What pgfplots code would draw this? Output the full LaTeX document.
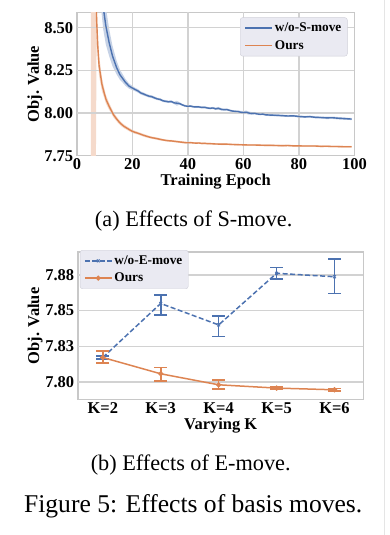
\documentclass[border=0pt]{standalone}
\usepackage{fontspec}
\setmainfont{Liberation Serif}
\usepackage{pgfplots}
\usepackage{pgfplotstable}
\pgfplotsset{compat=1.18}
\usepgfplotslibrary{fillbetween}
\definecolor{cblue}{HTML}{4C72B0}
\definecolor{corange}{HTML}{DD8452}
\definecolor{gridc}{HTML}{D2D2D2}
\definecolor{framec}{HTML}{C8C8C8}
\definecolor{legbg}{HTML}{EAEAF2}
\definecolor{legdraw}{HTML}{CFCFD8}

\pgfplotstableread{
x m e
8.0 9.0 0.3
9.0 8.72 0.15
9.5 8.62 0.13
10.4 8.514 0.11
11.6 8.415 0.08
12.8 8.336 0.06
14.3 8.267 0.04
15.5 8.225 0.03
16.4 8.205 0.025
17.5 8.18 0.02
18.8 8.158 0.015
20 8.147 0.012
21 8.138 0.01
22 8.13 0.01
23 8.118 0.009
24 8.112 0.009
25 8.105 0.008
26 8.099 0.008
27 8.096 0.008
28 8.089 0.008
29 8.083 0.007
30 8.080 0.007
31 8.072 0.007
32 8.069 0.007
33 8.066 0.007
34 8.068 0.007
35 8.060 0.007
36 8.058 0.014
37 8.056 0.007
38 8.048 0.006
39 8.042 0.006
40 8.040 0.006
41 8.041 0.006
42 8.037 0.006
43 8.036 0.006
44 8.036 0.006
45 8.033 0.006
46 8.034 0.006
47 8.030 0.006
48 8.028 0.006
49 8.030 0.006
50 8.025 0.007
51 8.028 0.008
52 8.022 0.007
53 8.020 0.006
54 8.021 0.006
55 8.016 0.006
56 8.012 0.006
57 8.010 0.006
58 8.009 0.007
59 8.005 0.008
60 8.003 0.009
61 8.005 0.010
62 8.000 0.009
63 7.998 0.008
64 7.999 0.007
65 7.995 0.006
66 7.993 0.006
67 7.994 0.006
68 7.990 0.006
70 7.988 0.006
72 7.987 0.006
74 7.985 0.006
76 7.983 0.006
78 7.984 0.006
80 7.980 0.006
82 7.978 0.006
84 7.979 0.006
86 7.975 0.006
88 7.974 0.006
90 7.972 0.007
92 7.973 0.007
94 7.970 0.007
96 7.968 0.007
98 7.966 0.006
99 7.965 0.006
}\bluedata

\pgfplotstableread{
x m e
5.0 10.0 3.0
6.6 9.0 2.0
7.1 8.55 0.12
7.5 8.40 0.08
8.0 8.277 0.06
8.6 8.215 0.05
9.0 8.17 0.04
9.8 8.12 0.03
10.5 8.08 0.025
11.6 8.04 0.02
12.5 8.012 0.018
13.2 7.99 0.016
14.0 7.972 0.014
15.0 7.952 0.013
16.0 7.935 0.012
17.0 7.922 0.011
18.0 7.912 0.010
19.0 7.902 0.010
20.0 7.893 0.009
21 7.887 0.009
22 7.882 0.008
23 7.876 0.008
24 7.870 0.008
25 7.865 0.008
26 7.860 0.007
27 7.856 0.007
28 7.853 0.007
29 7.850 0.007
30 7.846 0.007
31 7.843 0.006
32 7.840 0.006
33 7.838 0.006
34 7.837 0.006
35 7.835 0.006
36 7.833 0.006
37 7.831 0.006
38 7.829 0.006
39 7.827 0.006
40 7.826 0.005
41 7.827 0.005
42 7.825 0.005
43 7.824 0.005
44 7.825 0.005
45 7.822 0.005
46 7.823 0.005
47 7.821 0.005
48 7.821 0.005
50 7.819 0.005
52 7.818 0.005
54 7.818 0.005
56 7.816 0.005
58 7.815 0.005
60 7.814 0.005
62 7.813 0.005
64 7.813 0.005
66 7.812 0.005
68 7.811 0.005
70 7.811 0.005
72 7.810 0.005
74 7.809 0.005
76 7.810 0.005
78 7.808 0.005
80 7.808 0.005
82 7.807 0.005
84 7.807 0.005
86 7.807 0.005
88 7.805 0.005
90 7.806 0.005
92 7.804 0.005
94 7.804 0.005
96 7.803 0.005
98 7.803 0.005
99 7.803 0.005
}\orangedata

\pgfplotstableread{
x m ep em
0 7.8172 0.0010 0.0010
1 7.8550 0.0060 0.0080
2 7.8400 0.0063 0.0082
3 7.8761 0.0042 0.0040
4 7.8737 0.0124 0.0116
}\eblue

\pgfplotstableread{
x m ep em
0 7.8172 0.0047 0.0039
1 7.8058 0.0044 0.0049
2 7.7981 0.0035 0.0028
3 7.7958 0.0008 0.0008
4 7.7946 0.0010 0.0010
}\eorange

\begin{document}
\begin{tikzpicture}
\path (0,0) rectangle (390pt,535pt);
\draw[gray!20, line width=0.8pt] (385pt,0pt) -- (385pt,535pt);

\pgfplotsset{
  mystyle/.style={
    scale only axis,
    anchor=south west,
    /pgf/number format/assume math mode=true,
    tick label style={font=\bfseries\fontsize{16.5}{19}\selectfont, text=black},
    label style={font=\bfseries\fontsize{16.5}{19}\selectfont},
    axis line style={framec, line width=1.3pt},
    major tick length=0pt, minor tick length=0pt,
    xticklabel style={anchor=base, yshift=-13.5pt, inner sep=0pt},
    yticklabel style={anchor=east, inner sep=0pt, xshift=-3.5pt},
    legend cell align=left,
  },
  gridline/.style={gridc, line width=1.5pt, forget plot},
}

% ---------- top axis ----------
\begin{axis}[mystyle,
  at={(77pt,379.4pt)}, width=278pt, height=143.6pt,
  xmin=0, xmax=100, ymin=7.75, ymax=8.59,
  xtick={0,20,40,60,80,100},
  ytick={7.75,8.00,8.25,8.50},
  yticklabel style={/pgf/number format/.cd, fixed, fixed zerofill, precision=2},
  xlabel={Training Epoch},
  ylabel={Obj. Value},
  xlabel style={at={(axis description cs:0.5,-0.205)}, anchor=base},
  ylabel style={at={(axis description cs:-0.151,0.5)}, anchor=center},
  legend style={at={(axis description cs:0.975,0.965)}, anchor=north east,
    fill=legbg, draw=legdraw, rounded corners=2.5pt,
    font=\bfseries\fontsize{13.3}{15}\selectfont,
    inner xsep=4pt, inner ysep=3.5pt, row sep=3pt},
  legend image code/.code={\draw[#1, line width=1.8pt] (0pt,0pt) -- (27pt,0pt);},
]
% grid lines
\addplot[gridline] coordinates {(20,7.75) (20,8.59)};
\addplot[gridline] coordinates {(40,7.75) (40,8.59)};
\addplot[gridline] coordinates {(60,7.75) (60,8.59)};
\addplot[gridline] coordinates {(80,7.75) (80,8.59)};
\addplot[gridline] coordinates {(0,8.00) (100,8.00)};
\addplot[gridline] coordinates {(0,8.25) (100,8.25)};
\addplot[gridline] coordinates {(0,8.50) (100,8.50)};
% bands
\addplot[name path=bu, draw=none, forget plot] table[x=x, y expr=\thisrow{m}+\thisrow{e}] {\bluedata};
\addplot[name path=bl, draw=none, forget plot] table[x=x, y expr=\thisrow{m}-\thisrow{e}] {\bluedata};
\addplot[fill=cblue!32, draw=none, forget plot] fill between[of=bu and bl];
\addplot[name path=ou, draw=none, forget plot] table[x=x, y expr=\thisrow{m}+\thisrow{e}] {\orangedata};
\addplot[name path=ol, draw=none, forget plot] table[x=x, y expr=\thisrow{m}-\thisrow{e}] {\orangedata};
\addplot[fill=corange!30, draw=none, forget plot] fill between[of=ou and ol];
% means
\addplot[cblue, line width=1.4pt] table[x=x, y=m] {\bluedata};
\addlegendentry{w/o-S-move}
\addplot[corange, line width=1.4pt] table[x=x, y=m] {\orangedata};
\addlegendentry{Ours}
\end{axis}

% ---------- bottom axis ----------
\begin{axis}[mystyle,
  at={(78pt,135pt)}, width=286pt, height=148pt,
  xmin=-0.43, xmax=4.5, ymin=7.7876, ymax=7.891,
  xtick={0,1,2,3,4},
  xticklabels={K=2,K=3,K=4,K=5,K=6},
  ytick={7.8,7.825,7.85,7.875},
  yticklabels={7.80,7.83,7.85,7.88},
  xlabel={Varying K},
  ylabel={Obj. Value},
  xlabel style={at={(axis description cs:0.5,-0.203)}, anchor=base},
  ylabel style={at={(axis description cs:-0.150,0.5)}, anchor=center},
  legend style={at={(axis description cs:0.007,1.0135)}, anchor=north west,
    fill=legbg, draw=legdraw, rounded corners=2.5pt,
    font=\bfseries\fontsize{13.3}{15}\selectfont,
    inner xsep=4pt, inner ysep=3.5pt, row sep=3pt},
  legend image code/.code={\draw[#1, mark repeat=2, mark phase=2, line width=1.4pt] plot coordinates {(0pt,0pt) (13.5pt,0pt) (27pt,0pt)};},
]
\addplot[gridline] coordinates {(-0.43,7.800) (4.5,7.800)};
\addplot[gridline] coordinates {(-0.43,7.825) (4.5,7.825)};
\addplot[gridline] coordinates {(-0.43,7.850) (4.5,7.850)};
\addplot[gridline] coordinates {(-0.43,7.875) (4.5,7.875)};
\addplot[cblue, line width=1.5pt, dash pattern=on 5pt off 2.5pt,
  mark=x, mark size=2pt, mark options={solid, line width=1pt},
  error bars/.cd, y dir=both, y explicit,
  error bar style={line width=1.6pt, solid},
  error mark options={rotate=90, mark size=6.5pt, line width=1.6pt, solid}]
  table[x=x, y=m, y error plus=ep, y error minus=em] {\eblue};
\addlegendentry{w/o-E-move}
\addplot[corange, line width=1.5pt,
  mark=*, mark size=1.8pt,
  error bars/.cd, y dir=both, y explicit,
  error bar style={line width=1.6pt},
  error mark options={rotate=90, mark size=6.5pt, line width=1.6pt}]
  table[x=x, y=m, y error plus=ep, y error minus=em] {\eorange};
\addlegendentry{Ours}
\end{axis}

\node[anchor=base, font=\fontsize{22.3}{26}\selectfont, inner sep=0pt] at (194pt,309pt) {(a) Effects of S-move.};
\node[anchor=base, font=\fontsize{22.3}{26}\selectfont, inner sep=0pt] at (191pt,64pt) {(b) Effects of E-move.};
\node[anchor=base, font=\fontsize{25.6}{30}\selectfont, inner sep=0pt] at (193.5pt,21.7pt) {Figure 5: Effects of basis moves.};
\end{tikzpicture}
\end{document}
